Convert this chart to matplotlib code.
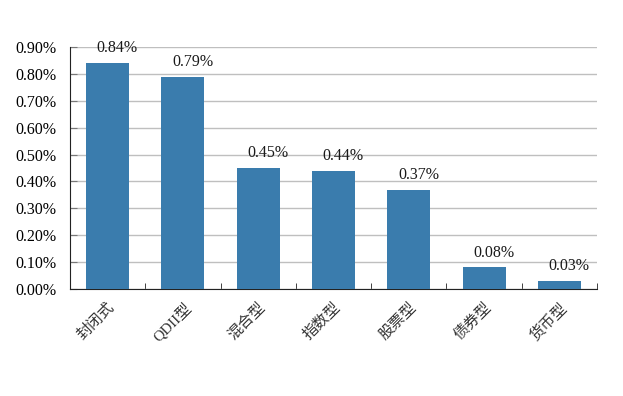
import matplotlib.pyplot as plt
from matplotlib.ticker import FuncFormatter, MultipleLocator

categories = ['封闭式', 'QDII型', '混合型', '指数型', '股票型', '债券型', '货币型']
values = [0.84, 0.79, 0.45, 0.44, 0.37, 0.08, 0.03]
value_labels = ['0.84%', '0.79%', '0.45%', '0.44%', '0.37%', '0.08%', '0.03%']

fonts = ['Liberation Serif', 'Noto Sans CJK SC', 'DejaVu Sans']
plt.rcParams['font.family'] = fonts

fig = plt.figure(figsize=(6.23, 3.96), dpi=100)
ax = fig.add_axes([70 / 623, 1 - 289 / 396, 527 / 623, 242 / 396])

x = list(range(len(categories)))
bars = ax.bar(x, values, width=0.57, color='#3A7CAD', zorder=3)

for xi, v, lab in zip(x, values, value_labels):
    ax.annotate(lab, (xi, v), xytext=(7, 5), textcoords='offset points',
                ha='center', va='bottom', fontsize=11.5, color='#1a1a1a')

ax.set_xlim(-0.5, len(categories) - 0.5)
ax.set_ylim(0, 0.9)
ax.yaxis.set_major_locator(MultipleLocator(0.1))
ax.yaxis.set_major_formatter(FuncFormatter(lambda v, p: '%.2f%%' % v))
ax.grid(axis='y', color='#BFBFBF', linewidth=1, zorder=0)

for s in ['top', 'right']:
    ax.spines[s].set_visible(False)
ax.spines['left'].set_color('#222222')
ax.spines['bottom'].set_color('#222222')

ax.tick_params(axis='y', direction='in', length=5, color='#777777',
               labelsize=11.5, pad=10)
ax.set_xticks([i - 0.5 for i in range(len(categories) + 1)], minor=True)
ax.set_xticks(x)
ax.set_xticklabels(categories, rotation=45, ha='right', rotation_mode='anchor',
                   fontsize=11, color='#333333')
ax.tick_params(axis='x', which='major', length=0, pad=8)
ax.tick_params(axis='x', which='minor', direction='in', length=4, color='#222222')

fig.savefig('out.png', dpi=100)
